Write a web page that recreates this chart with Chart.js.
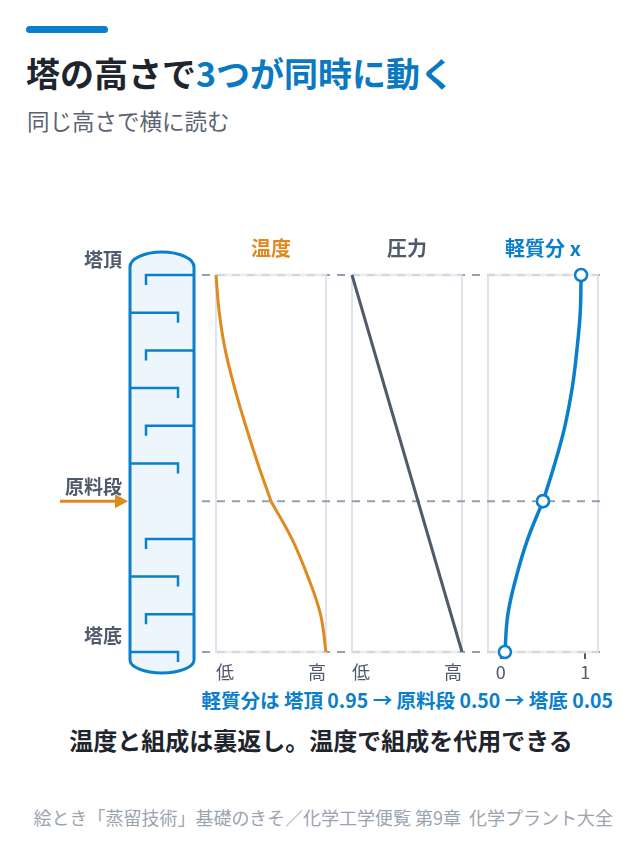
<!DOCTYPE html>
<html><head><meta charset="utf-8">
<script src="https://cdn.jsdelivr.net/npm/chart.js@4.4.1/dist/chart.umd.min.js"></script>
<style>
html,body{margin:0;padding:0;background:#fff;}
body{width:640px;height:858px;position:relative;overflow:hidden;font-family:"Noto Sans CJK JP","Noto Sans",sans-serif;}
.abs{position:absolute;}
#bar{left:26px;top:26px;width:82px;height:7px;border-radius:4px;background:#0a7fcc;}
#title{left:26px;top:51px;font-size:34px;font-weight:700;color:#1f252d;line-height:44px;white-space:nowrap;}
#title span{color:#0b78c2;}
#sub{left:27px;top:106px;font-size:22.5px;color:#5b6472;line-height:28px;white-space:nowrap;}
canvas{position:absolute;}
#cap{right:27px;top:688px;font-size:19.5px;font-weight:700;color:#0a7fcc;line-height:24px;white-space:nowrap;}
#note{left:0;width:642px;text-align:center;top:724px;font-size:24px;font-weight:700;color:#1f252d;line-height:32px;white-space:nowrap;}
#src{right:27px;top:805px;font-size:18px;color:#9aa4b0;line-height:24px;white-space:nowrap;}
</style></head>
<body>
<div id="bar" class="abs"></div>
<div id="title" class="abs">塔の高さで<span>3つが同時に動く</span></div>
<div id="sub" class="abs">同じ高さで横に読む</div>
<div id="cap" class="abs">軽質分は 塔頂 0.95 → 原料段 0.50 → 塔底 0.05</div>
<div id="note" class="abs">温度と組成は裏返し。温度で組成を代用できる</div>
<div id="src" class="abs">絵とき「蒸留技術」基礎のきそ／化学工学便覧 第9章&nbsp;&nbsp;化学プラント大全</div>
<canvas id="cT" width="339" height="500" style="left:0;top:220px;width:339px;height:500px"></canvas>
<canvas id="cP" width="136" height="500" style="left:339px;top:220px;width:136px;height:500px"></canvas>
<canvas id="cX" width="165" height="500" style="left:475px;top:220px;width:165px;height:500px"></canvas>
<script>
// ---- data ----
const stages = [10, 9, 8, 7, 6, 5, 4, 3, 2, 1, 0];            // height (tray number, 0 = 塔底, 10 = 塔頂)
const temperature = [0.00, 0.03, 0.085, 0.17, 0.27, 0.38, 0.50, 0.69, 0.835, 0.95, 1.00]; // 低→高
const pressureStages = [10, 0];
const pressure = [0, 1];                                        // 低→高
const lightFraction = [0.95, 0.94, 0.90, 0.845, 0.76, 0.64, 0.50, 0.32, 0.185, 0.085, 0.05];
const markedStages = [10, 4, 0];
const trayStages = [10, 9, 8, 7, 6, 5, 3, 2, 1, 0];
const feedStage = 4;
const levelLabels = [['塔頂', 10], ['原料段', 4], ['塔底', 0]];
const tempTicks = [0, 1], tempTickLabels = ['低', '高'];
const pressTicks = [0, 1], pressTickLabels = ['低', '高'];
const xTicks = [0, 1], xTickLabels = ['0', '1'];

const BLUE = '#0a7fcc', ORANGE = '#e0891f', SLATE = '#4f5a6b', FONT = '"Noto Sans CJK JP","Noto Sans",sans-serif';
const DASH_X0 = 202, DASH_X1 = 604;

function pts(ys, xs) { return ys.map((y, i) => ({ x: xs[i], y })); }
// split a profile at the feed stage into rectifying (upper) and stripping (lower) sections
function upper(ys, xs) { return pts(ys, xs).filter(p => p.y >= feedStage); }
function lower(ys, xs) { return pts(ys, xs).filter(p => p.y <= feedStage); }

function framePlugin(left, header, headerColor) {
  return {
    id: 'frame',
    beforeDatasetsDraw(chart) {
      const { ctx, chartArea: a, scales } = chart;
      const y = scales.y;
      ctx.save();
      ctx.strokeStyle = '#d5dbe3'; ctx.lineWidth = 1.5;
      ctx.beginPath();
      ctx.moveTo(a.left, a.top); ctx.lineTo(a.left, a.bottom);
      ctx.moveTo(a.right, a.top); ctx.lineTo(a.right, a.bottom);
      ctx.stroke();
      ctx.setLineDash([8, 7]);
      ctx.strokeStyle = '#939eae'; ctx.lineWidth = 2;
      [10, feedStage, 0].forEach(s => {
        const py = y.getPixelForValue(s);
        ctx.beginPath(); ctx.moveTo(DASH_X0 - left, py); ctx.lineTo(DASH_X1 - left, py); ctx.stroke();
      });
      ctx.setLineDash([]);
      ctx.strokeStyle = 'rgba(228,232,238,0.78)'; ctx.lineWidth = 3;
      [10, 0].forEach(s => {
        const py = y.getPixelForValue(s);
        ctx.beginPath(); ctx.moveTo(a.left - 1, py); ctx.lineTo(a.right + 1, py); ctx.stroke();
      });
      ctx.restore();
    },
    afterDraw(chart) {
      const { ctx, chartArea: a } = chart;
      ctx.save();
      ctx.font = '700 20px ' + FONT;
      ctx.fillStyle = headerColor; ctx.textAlign = 'center'; ctx.textBaseline = 'middle';
      ctx.fillText(header, (a.left + a.right) / 2, a.top - 27);
      ctx.restore();
    }
  };
}

const columnPlugin = {
  id: 'column',
  beforeDraw(chart) {
    const { ctx, scales } = chart;
    const y = scales.y;
    const L = 130, R = 194, cx = (L + R) / 2, hw = (R - L) / 2;
    const yTop = y.getPixelForValue(10), yBot = y.getPixelForValue(0);
    const bTop = yTop - 8, bBot = yBot + 8;
    ctx.save();
    ctx.beginPath();
    ctx.moveTo(L, bBot);
    ctx.lineTo(L, bTop);
    ctx.ellipse(cx, bTop, hw, 15, 0, Math.PI, 0);
    ctx.lineTo(R, bBot);
    ctx.ellipse(cx, bBot, hw, 13, 0, 0, Math.PI);
    ctx.closePath();
    ctx.fillStyle = '#eef6fd'; ctx.fill();
    ctx.strokeStyle = BLUE; ctx.lineWidth = 3; ctx.stroke();
    ctx.lineWidth = 2.5; ctx.lineCap = 'butt';
    trayStages.forEach((s, i) => {
      const py = y.getPixelForValue(s);
      ctx.beginPath();
      if (i % 2 === 0) { ctx.moveTo(R, py); ctx.lineTo(146, py); ctx.lineTo(146, py + 10); }
      else { ctx.moveTo(L, py); ctx.lineTo(178, py); ctx.lineTo(178, py + 10); }
      ctx.stroke();
    });
    ctx.font = '700 19px ' + FONT; ctx.fillStyle = SLATE; ctx.textAlign = 'right'; ctx.textBaseline = 'middle';
    levelLabels.forEach(([t, s]) => {
      const py = y.getPixelForValue(s);
      const off = s === 10 ? -15 : (s === 0 ? -16 : -14);
      ctx.fillText(t, 122, py + off);
    });
    const fy = y.getPixelForValue(feedStage);
    ctx.strokeStyle = ORANGE; ctx.fillStyle = ORANGE; ctx.lineWidth = 3;
    ctx.beginPath(); ctx.moveTo(60, fy); ctx.lineTo(117, fy); ctx.stroke();
    ctx.beginPath(); ctx.moveTo(115, fy - 7); ctx.lineTo(128, fy); ctx.lineTo(115, fy + 7); ctx.closePath(); ctx.fill();
    ctx.restore();
  }
};

function xAxis(min, max, ticks, labels, align, showMarks) {
  return {
    type: 'linear', min, max,
    afterBuildTicks: s => { s.ticks = ticks.map(v => ({ value: v })); },
    ticks: {
      callback: (v, i) => labels[i], color: SLATE, font: { family: FONT, size: 18 },
      padding: showMarks ? 2 : 9, align, maxRotation: 0, autoSkip: false
    },
    grid: showMarks ? { display: true, drawOnChartArea: false, drawTicks: true, tickLength: 7, color: SLATE, lineWidth: 2 }
                    : { display: false, drawTicks: false },
    border: { display: false },
    afterFit: s => { s.height = 30; }
  };
}
const yAxis = { type: 'linear', min: 0, max: 10, display: false };

function makeChart(id, left, padL, padR, datasets, xa, header, headerColor, extra) {
  return new Chart(document.getElementById(id), {
    type: 'scatter',
    data: { datasets },
    options: {
      responsive: false, animation: false, events: [],
      layout: { padding: { top: 55, bottom: 38, left: padL, right: padR } },
      scales: { x: xa, y: yAxis },
      plugins: { legend: { display: false }, tooltip: { enabled: false }, title: { display: false } }
    },
    plugins: [framePlugin(left, header, headerColor)].concat(extra || [])
  });
}

const tempStyle = { showLine: true, borderColor: ORANGE, borderWidth: 3, pointRadius: 0, tension: 0.4, clip: false };
makeChart('cT', 0, 216, 13, [
  Object.assign({ data: upper(stages, temperature) }, tempStyle),
  Object.assign({ data: lower(stages, temperature) }, tempStyle)
], xAxis(0, 1, tempTicks, tempTickLabels, 'inner', false), '温度', ORANGE, [columnPlugin]);

makeChart('cP', 339, 13, 13, [{
  data: pts(pressureStages, pressure), showLine: true, borderColor: SLATE, borderWidth: 3,
  pointRadius: 0, tension: 0, clip: false
}], xAxis(0, 1, pressTicks, pressTickLabels, 'inner', false), '圧力', SLATE);

const xStyle = {
  showLine: true, borderColor: BLUE, borderWidth: 3.5, tension: 0.4, clip: false,
  pointRadius: c => (c.raw && markedStages.includes(c.raw.y)) ? 6 : 0,
  pointBackgroundColor: '#fff', pointBorderColor: BLUE, pointBorderWidth: 2.5
};
makeChart('cX', 475, 13, 42, [
  Object.assign({ data: lower(stages, lightFraction) }, xStyle),
  Object.assign({ data: upper(stages, lightFraction) }, xStyle)
], xAxis(-0.15, 1.15, xTicks, xTickLabels, 'center', true), '軽質分 x', BLUE);
</script>
</body></html>
